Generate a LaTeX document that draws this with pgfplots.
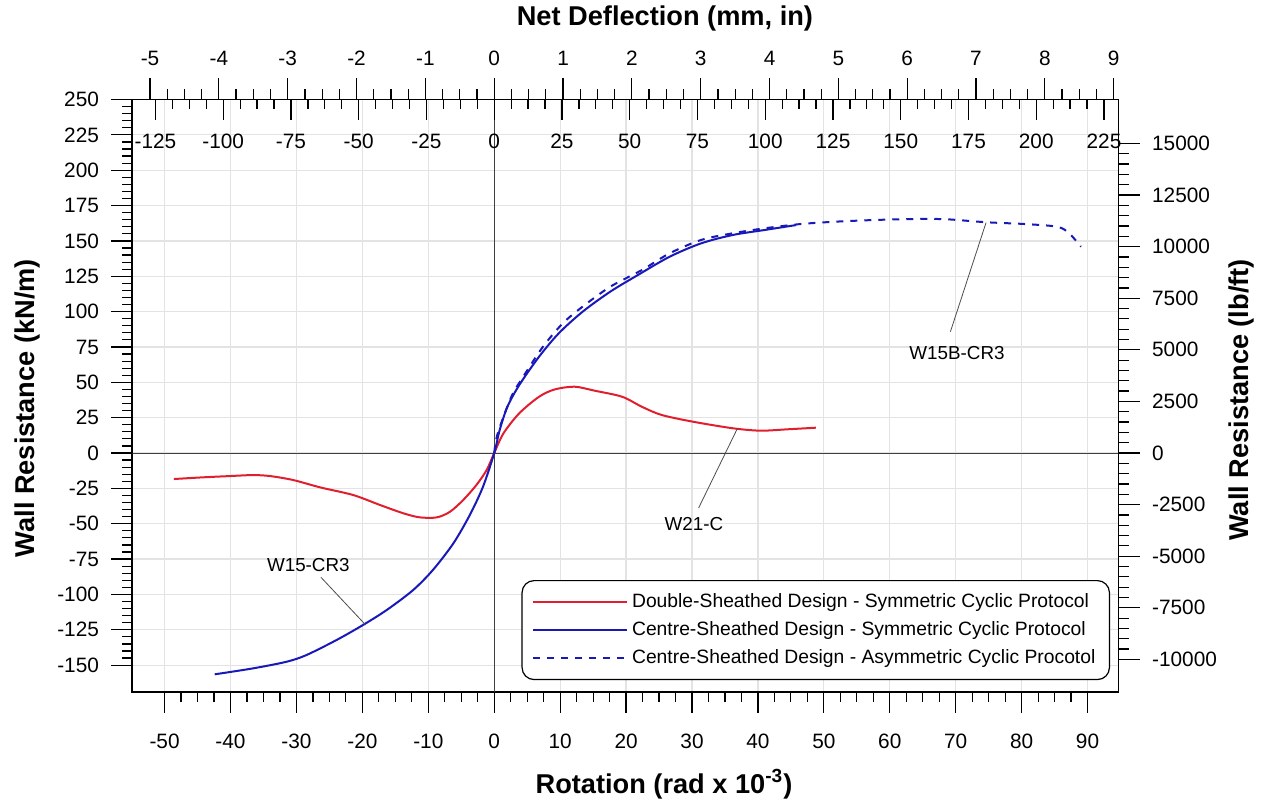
\documentclass[border=0pt]{standalone}
\usepackage{pgfplots}
\pgfplotsset{compat=1.18}
\usepackage{fontspec}
\setmainfont{Liberation Sans}
\definecolor{cred}{RGB}{225,30,45}
\definecolor{cblue}{RGB}{25,25,185}
\newcommand{\tickfont}{\fontsize{10.4pt}{12pt}\selectfont}
\newcommand{\labfont}{\fontsize{13.6pt}{16pt}\selectfont\bfseries}
\newcommand{\legfont}{\fontsize{9.65pt}{11pt}\selectfont}
\newcommand{\annfont}{\fontsize{9.4pt}{11pt}\selectfont}
\pgfplotsset{
  base/.style={
    at={(0pt,0pt)}, anchor=south west,
    scale only axis, width=493.1pt, height=296.25pt,
    /pgf/number format/assume math mode=true,
    /pgf/number format/1000 sep={},
    tick label style={font=\tickfont},
    label style={font=\labfont},
    major tick length=10.5pt, minor tick length=5pt,
    every tick/.style={black, line width=0.6pt},
    axis line style={black, line width=0.8pt},
  }
}
\begin{document}
\begin{tikzpicture}
\path[use as bounding box] (-66.15pt,-54.5pt) rectangle (564.35pt,346pt);
% ---------------- main axis (rotation vs kN/m)
\begin{axis}[base,
  xmin=-54.9, xmax=94.7, ymin=-169, ymax=250,
  xtick={-50,-40,...,90}, ytick={-150,-125,...,250},
  minor x tick num=3, minor y tick num=4,
  tick pos=left, tick align=outside,
  grid=major, major grid style={gray!22, line width=0.6pt},
  xticklabel style={anchor=center, yshift=-14pt, inner sep=0pt},
  yticklabel style={anchor=east, xshift=-6pt, inner sep=0pt},
  xlabel={Rotation (rad x 10\textsuperscript{-3})},
  xlabel style={at={(axis description cs:0.5391,-0.1553)}, anchor=center},
  ylabel={Wall Resistance (kN/m)},
  ylabel style={at={(axis description cs:-0.1058,0.479)}, anchor=center},
  legend style={at={(0.3946,0.189)}, anchor=north west, draw=black, line width=0.6pt,
    rounded corners=6pt, font=\legfont, inner xsep=5pt, inner ysep=4.5pt, row sep=1.5pt, fill=white},
  legend cell align=left,
  legend image code/.code={\draw[#1, line width=1pt, sharp corners] (0pt,0pt) -- (47pt,0pt);},
]
\draw[black!75, line width=0.5pt] (axis cs:0,-169) -- (axis cs:0,250);
\draw[black!75, line width=0.5pt] (axis cs:-54.9,0) -- (axis cs:94.7,0);

\addplot[cred, line width=1pt, smooth, tension=0.5] coordinates {
(-48.6,-18.4) (-44.2,-17.2) (-40.1,-16.3) (-36.6,-15.6) (-34.0,-16.3) (-30.5,-19.1)
(-26.4,-24.3) (-21.4,-29.7) (-17.3,-36.8) (-13.8,-42.6) (-11.3,-45.5) (-8.7,-45.5)
(-6.7,-41.5) (-4.7,-33.2) (-2.7,-22.6) (-1.15,-12) (0,0) (1.4,13.9) (3.8,28.1)
(6.8,39.8) (9.2,45.0) (12.2,46.9) (15.2,44.1) (19.4,39.8) (22.4,32.7) (25.4,26.9)
(30.2,22.1) (36.2,17.5) (40.4,15.8) (44.6,16.8) (48.8,17.9)
};
\addlegendentry{Double-Sheathed Design - Symmetric Cyclic Protocol}

\addplot[cblue, line width=1pt, smooth, tension=0.5] coordinates {
(-42.4,-156.5) (-36.6,-152.3) (-31.5,-147.6) (-28.5,-142.9) (-23.9,-132.2) (-19.9,-121.6)
(-16.3,-111) (-12.3,-96.9) (-9.3,-82.7) (-6.2,-63.9) (-3.7,-43.8) (-1.7,-23.8) (0,0)
(0.83,16.3) (2.0,32.7) (3.8,48.1) (6.8,68.1) (9.8,84.7) (13.4,99.9) (17.6,114.1)
(21.8,125.9) (26.6,138.8) (31.4,148.3) (36.2,154.2) (41.0,157.7) (45.8,161.2)
};
\addlegendentry{Centre-Sheathed Design - Symmetric Cyclic Protocol}

\addplot[cblue, line width=1pt, dash pattern=on 3.5pt off 3.5pt, smooth, tension=0.5] coordinates {
(0,0) (0.53,13.9) (2.6,39.8) (4.4,54) (7.4,75.2) (10.4,91.7) (13.4,103.5) (17.6,117.6)
(22.4,129.4) (26.6,141.2) (31.4,150.7) (36.2,155.4) (41,158.9) (46.4,161.9) (51.8,163.6)
(57.8,164.8) (63.8,165.5) (68.6,165.3) (74.6,163.2) (80.6,161.9) (85.4,160) (87.2,155.4)
(89.0,145.9)
};
\addlegendentry{Centre-Sheathed Design - Asymmetric Cyclic Procotol}

\draw[black!70, line width=0.4pt] (axis cs:-26.3,-87.8) -- (axis cs:-19.5,-121.6);
\node[font=\annfont] at (axis cs:-28.2,-79.2) {W15-CR3};
\draw[black!70, line width=0.4pt] (axis cs:36.9,17.5) -- (axis cs:31.0,-38.9);
\node[font=\annfont] at (axis cs:30.3,-50.2) {W21-C};
\draw[black!70, line width=0.4pt] (axis cs:74.6,162.9) -- (axis cs:69.2,85.8);
\node[font=\annfont] at (axis cs:70.2,70.5) {W15B-CR3};
\end{axis}

% ---------------- right axis (lb/ft)
\begin{axis}[base,
  xmin=-54.9, xmax=94.7, ymin=-11580, ymax=17130,
  axis x line=none, axis y line*=right,
  ytick={-10000,-7500,...,15000}, minor y tick num=4,
  scaled y ticks=false, tick align=outside,
  yticklabel style={anchor=west, xshift=6.1pt, inner sep=0pt},
  ylabel={Wall Resistance (lb/ft)},
  ylabel style={at={(axis description cs:1.1247,0.493)}, anchor=center},
]
\end{axis}

% ---------------- top axis (inches)
\begin{axis}[base,
  xmin=-5.258, xmax=9.070, ymin=0, ymax=1,
  axis y line=none, axis x line*=top,
  xtick={-5,-4,...,9}, minor x tick num=3, tick align=outside,
  scaled x ticks=false,
  xticklabel style={anchor=center, yshift=10.1pt, inner sep=0pt},
  xlabel={Net Deflection (mm, in)},
  xlabel style={at={(axis description cs:0.5401,1.1367)}, anchor=center},
]
\end{axis}

% ---------------- top axis (mm)
\begin{axis}[base,
  xmin=-133.55, xmax=230.37, ymin=0, ymax=1,
  axis y line=none, axis x line*=top,
  xtick={-125,-100,...,225}, minor x tick num=3, tick align=inside,
  scaled x ticks=false,
  xticklabel style={anchor=center, yshift=-21pt, inner sep=0pt},
]
\end{axis}
\end{tikzpicture}
\end{document}
